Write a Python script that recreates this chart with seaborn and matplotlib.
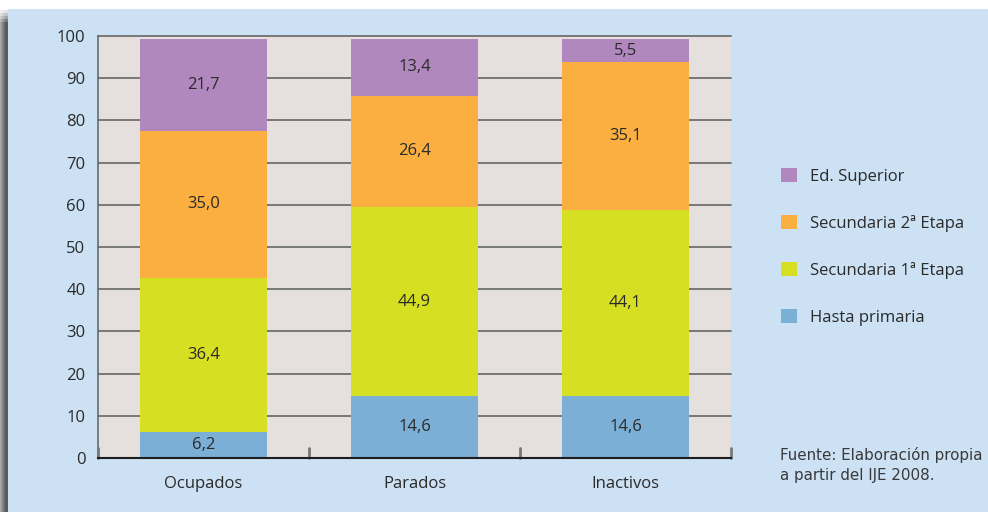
import numpy as np
import pandas as pd
import matplotlib
matplotlib.use("Agg")
import matplotlib.pyplot as plt
from matplotlib.patches import Rectangle, Patch
import seaborn as sns

# Nivel de estudios por situación laboral (%)
categorias = ["Ocupados", "Parados", "Inactivos"]
series = ["Hasta primaria", "Secundaria 1ª Etapa", "Secundaria 2ª Etapa", "Ed. Superior"]
hasta_primaria = [6.2, 14.6, 14.6]
secundaria_1 = [36.4, 44.9, 44.1]
secundaria_2 = [35.0, 26.4, 35.1]
ed_superior = [21.7, 13.4, 5.5]
y_ticks = [0, 10, 20, 30, 40, 50, 60, 70, 80, 90, 100]
fuente = "Fuente: Elaboración propia\na partir del IJE 2008."

colores = {
    "Hasta primaria": "#7BAFD6",
    "Secundaria 1ª Etapa": "#D6DF22",
    "Secundaria 2ª Etapa": "#FBAF40",
    "Ed. Superior": "#B088BE",
}

sns.set_theme(style="white")
plt.rcParams["font.family"] = ["Open Sans", "DejaVu Sans"]

valores = np.array([hasta_primaria, secundaria_1, secundaria_2, ed_superior])
acumulado = valores.cumsum(axis=0)
df = pd.DataFrame({
    "categoria": np.tile(categorias, len(series)),
    "serie": np.repeat(series, len(categorias)),
    "valor": valores.ravel(),
    "tope": acumulado.ravel(),
})

fig = plt.figure(figsize=(9.88, 5.12), dpi=100, facecolor="white")

# panel de fondo y sombra lateral
W, H = 988, 512
fig.patches.append(Rectangle((8 / W, 0), 1 - 8 / W, (H - 9) / H, transform=fig.transFigure,
                             facecolor="#CCE1F4", edgecolor="none", zorder=-10))
grises = [0.66, 0.60, 0.54, 0.48, 0.42, 0.37, 0.34, 0.36]
for i, g in enumerate(grises):
    fig.patches.append(Rectangle((i / W, 0), 1 / W, (H - 22) / H, transform=fig.transFigure,
                                 facecolor=(g, g, g), edgecolor="none", zorder=-10))
    # desvanecimiento en la parte superior de la sombra
    for k, a in enumerate([0.8, 0.55, 0.35, 0.18]):
        fig.patches.append(Rectangle((i / W, (H - 22 + 3 * k) / H), 1 / W, 3 / H,
                                     transform=fig.transFigure, facecolor=(g, g, g),
                                     alpha=a, edgecolor="none", zorder=-10))

ax = fig.add_axes([98 / W, 54 / H, (731 - 98) / W, (458 - 36) / H])
ax.set_zorder(1)
ax.set_facecolor("#E5E0DE")

# barras apiladas: se dibujan los acumulados de mayor a menor
for s in reversed(series):
    sub = df[df["serie"] == s]
    sns.barplot(data=sub, x="categoria", y="tope", order=categorias, color=colores[s],
                width=0.6, saturation=1, ax=ax, zorder=3, linewidth=0)

# etiquetas de valor en el centro de cada tramo
for j, cat in enumerate(categorias):
    base = 0
    for i, s in enumerate(series):
        v = valores[i, j]
        ax.text(j, base + v / 2, f"{v:.1f}".replace(".", ","), ha="center", va="center",
                fontsize=12, color="#2A2A2A", zorder=5)
        base += v

ax.set_xlim(-0.5, 2.5)
ax.set_ylim(0, 100)
ax.set_yticks(y_ticks)
ax.set_yticklabels([str(t) for t in y_ticks])
for t in y_ticks[1:]:
    ax.axhline(t, color="#707070", linewidth=1.3, zorder=1, clip_on=False)

ax.set_xticks([0, 1, 2])
ax.set_xticklabels(categorias)
ax.tick_params(axis="x", length=0, pad=13, labelsize=12, labelcolor="#2A2A2A")
ax.tick_params(axis="y", length=0, pad=9, labelsize=12, labelcolor="#2A2A2A")
ax.set_xlabel("")
ax.set_ylabel("")

# marcas de separación entre categorías
for xb in [-0.5, 0.5, 1.5, 2.5]:
    ax.plot([xb, xb], [0, 2.4], color="#777777", linewidth=2, zorder=4, clip_on=False)

for side in ["top", "right"]:
    ax.spines[side].set_visible(False)
ax.spines["left"].set_color("#6A6A6A")
ax.spines["left"].set_linewidth(1.2)
ax.spines["bottom"].set_color("#1E1E1E")
ax.spines["bottom"].set_linewidth(1.5)
ax.spines["bottom"].set_zorder(6)

handles = [Patch(facecolor=colores[s], edgecolor="none", label=s) for s in reversed(series)]
fig.legend(handles=handles, loc="upper left", bbox_to_anchor=(766 / W, 1 - 153 / H),
           frameon=False, fontsize=12, handlelength=0.96, handleheight=0.96,
           handletextpad=0.8, labelspacing=1.8, labelcolor="#2A2A2A")

fig.text(780 / W, 1 - 447 / H, fuente, ha="left", va="top", fontsize=10.9,
         color="#3A3A3A", family=["DejaVu Sans"], linespacing=1.4)

fig.savefig("out.png", dpi=100, facecolor=fig.get_facecolor())
